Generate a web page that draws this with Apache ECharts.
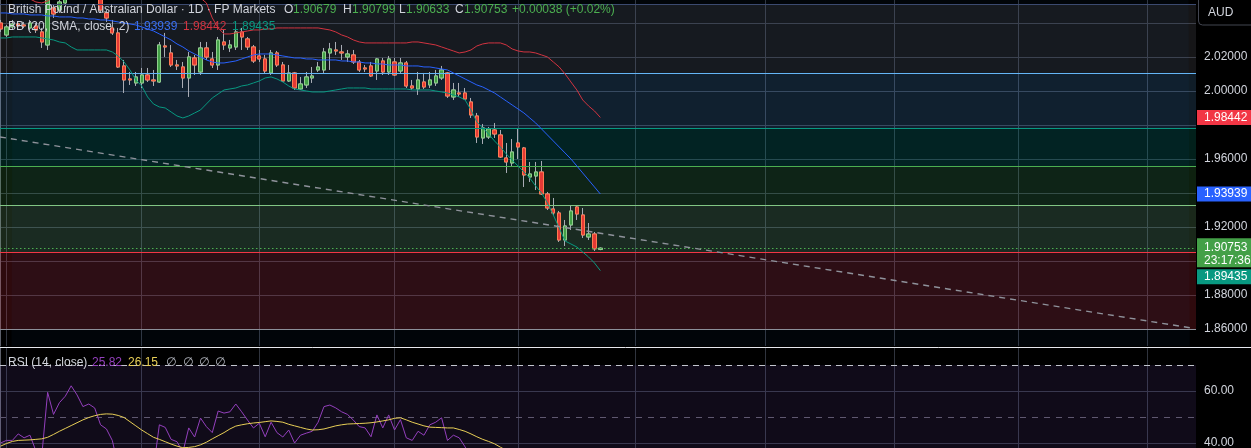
<!DOCTYPE html>
<html>
<head>
<meta charset="utf-8">
<title>GBPAUD 1D</title>
<script src="https://cdn.jsdelivr.net/npm/echarts@6.0.0/dist/echarts.min.js"></script>
<style>
html,body{margin:0;padding:0;background:#000;overflow:hidden;}
#chart{width:1251px;height:448px;}
</style>
</head>
<body>
<div id="chart"></div>
<script>
// ---------------- DATA ----------------
const opens = [
2.04000, 2.03294, 2.03765, 2.03941, 2.03882, 2.03706, 2.03824, 2.03471, 2.02706, 2.04882,
2.04765, 2.05176, 2.05706, 2.06235, 2.05941, 2.06412, 2.06059, 2.05588, 2.04588, 2.03706,
2.03412, 2.01471, 2.00706, 2.00471, 2.00471, 2.00941, 2.00647, 2.00529, 2.02647, 2.02235,
2.01529, 2.01412, 2.00765, 2.01941, 2.01118, 2.02529, 2.01882, 2.01529, 2.02882, 2.02529,
2.02588, 2.03471, 2.03059, 2.02588, 2.02059, 2.01882, 2.01059, 2.02235, 2.01529, 2.00588,
2.01059, 2.00118, 2.00353, 2.00765, 2.01235, 2.01235, 2.02235, 2.02412, 2.02294, 2.02000,
2.02118, 2.01706, 2.01353, 2.01471, 2.01176, 2.01765, 2.01118, 2.01706, 2.01176, 2.01647,
2.00294, 2.00118, 2.00529, 2.00353, 2.00471, 2.00765, 2.01059, 1.99647, 1.99882, 1.99882,
1.99353, 1.98529, 1.97235, 1.97294, 1.97706, 1.97412, 1.96059, 1.95765, 1.96941, 1.96647,
1.94941, 1.95000, 1.95235, 1.93941, 1.93059, 1.92824, 1.91235, 1.92118, 1.93176, 1.92706,
1.91412, 1.91588, 1.90679];
const highs = [
2.04176, 2.03882, 2.04176, 2.04059, 2.04059, 2.04176, 2.04000, 2.03706, 2.05706, 2.05118,
2.05471, 2.05941, 2.06412, 2.06529, 2.06588, 2.06529, 2.06235, 2.05824, 2.04765, 2.04176,
2.03706, 2.01824, 2.01118, 2.01118, 2.01353, 2.01353, 2.01235, 2.02882, 2.03412, 2.02706,
2.01824, 2.01706, 2.02294, 2.02118, 2.02882, 2.02882, 2.02294, 2.03176, 2.03588, 2.03000,
2.04059, 2.03706, 2.03176, 2.02706, 2.02412, 2.02118, 2.02412, 2.02353, 2.01706, 2.01529,
2.01118, 2.00824, 2.01118, 2.01412, 2.01706, 2.02529, 2.02824, 2.02882, 2.02706, 2.02412,
2.02412, 2.01824, 2.01529, 2.01706, 2.01941, 2.01941, 2.02059, 2.01941, 2.01941, 2.01765,
2.00647, 2.01118, 2.01059, 2.01118, 2.01235, 2.01471, 2.01118, 2.00471, 2.00471, 2.00176,
1.99588, 1.98706, 1.98059, 1.97882, 1.98118, 1.97706, 1.96941, 1.97176, 1.97765, 1.96706,
1.95824, 1.95824, 1.95882, 1.94059, 1.93706, 1.92941, 1.92412, 1.93235, 1.93235, 1.93118,
1.92235, 1.91706, 1.90799];
const lows = [
2.03471, 2.03176, 2.03588, 2.03706, 2.03706, 2.03588, 2.03412, 2.02529, 2.02412, 2.04294,
2.04588, 2.04941, 2.05529, 2.05824, 2.05824, 2.05882, 2.05588, 2.04588, 2.04059, 2.03294,
2.01353, 1.99882, 2.00353, 2.00294, 2.00176, 2.00529, 2.00294, 2.00471, 2.02000, 2.01412,
2.01235, 2.00176, 1.99647, 2.00941, 2.00941, 2.01824, 2.01353, 2.01235, 2.02412, 2.02294,
2.02412, 2.02412, 2.02412, 2.01647, 2.01706, 2.01000, 2.00941, 2.01412, 2.00529, 2.00529,
2.00059, 2.00059, 2.00176, 2.00471, 2.01118, 2.01059, 2.01235, 2.02118, 2.01824, 2.01706,
2.01588, 2.01118, 2.01118, 2.00824, 2.00647, 2.00941, 2.00941, 2.00882, 2.01059, 2.00176,
2.00059, 1.99765, 2.00118, 2.00176, 2.00294, 2.00647, 1.99588, 1.99471, 1.99647, 1.99471,
1.98412, 1.96941, 1.96882, 1.97176, 1.97235, 1.96059, 1.95176, 1.95529, 1.96000, 1.94353,
1.94647, 1.94176, 1.93882, 1.93000, 1.92706, 1.91118, 1.90882, 1.91824, 1.92412, 1.91353,
1.91235, 1.90588, 1.90633];
const closes = [
2.03647, 2.03765, 2.03941, 2.03824, 2.03824, 2.04000, 2.03588, 2.02882, 2.05529, 2.04529,
2.05235, 2.05706, 2.06235, 2.05941, 2.06412, 2.06059, 2.05706, 2.04765, 2.04294, 2.03412,
2.01412, 2.00647, 2.00647, 2.00824, 2.00941, 2.00647, 2.00588, 2.02706, 2.02588, 2.01529,
2.01471, 2.00765, 2.02000, 2.01529, 2.02529, 2.02000, 2.01529, 2.03000, 2.02706, 2.02706,
2.03471, 2.03176, 2.02588, 2.01765, 2.01882, 2.01176, 2.02235, 2.01529, 2.00588, 2.01059,
2.00176, 2.00412, 2.00824, 2.00882, 2.01412, 2.02294, 2.02471, 2.02353, 2.02235, 2.02176,
2.01706, 2.01235, 2.01294, 2.00882, 2.01882, 2.01118, 2.01882, 2.00941, 2.01647, 2.00294,
2.00176, 2.00647, 2.00235, 2.00647, 2.00882, 2.01235, 1.99706, 2.00059, 1.99824, 1.99529,
1.98588, 1.97294, 1.97824, 1.97765, 1.97471, 1.96118, 1.95824, 1.96412, 1.96706, 1.95059,
1.95118, 1.95235, 1.93941, 1.93118, 1.92824, 1.91235, 1.92059, 1.92941, 1.92765, 1.91529,
1.91588, 1.90715, 1.90753];

// Bollinger Bands (20, SMA, close, 2)
const bbUpper = [
2.06058, 2.05941, 2.05824, 2.05706, 2.05588, 2.05412, 2.05235, 2.05176, 2.05294, 2.05529,
2.05824, 2.05882, 2.06118, 2.06176, 2.06176, 2.06058, 2.06058, 2.05940, 2.05940, 2.05942,
2.06059, 2.06294, 2.06647, 2.07117, 2.07236, 2.07647, 2.07823, 2.07647, 2.07352, 2.07235,
2.07001, 2.06764, 2.06177, 2.05646, 2.05471, 2.05176, 2.04294, 2.03706, 2.03353, 2.03353,
2.03412, 2.03471, 2.03529, 2.03588, 2.03588, 2.03647, 2.03647, 2.03706, 2.03706, 2.03706,
2.03706, 2.03706, 2.03706, 2.03706, 2.03706, 2.03647, 2.03588, 2.03471, 2.03294, 2.03176,
2.03000, 2.02882, 2.02824, 2.02824, 2.02824, 2.02824, 2.02824, 2.02824, 2.02824, 2.02824,
2.02882, 2.02882, 2.02824, 2.02765, 2.02706, 2.02588, 2.02471, 2.02353, 2.02235, 2.02294,
2.02412, 2.02647, 2.02765, 2.02824, 2.02824, 2.02824, 2.02706, 2.02471, 2.02353, 2.02294,
2.02294, 2.02235, 2.02118, 2.02000, 2.01706, 2.01412, 2.01000, 2.00529, 2.00059, 1.99471,
1.99118, 1.98824, 1.98442];
const bbBasis = [
2.04588, 2.04588, 2.04529, 2.04529, 2.04529, 2.04471, 2.04471, 2.04471, 2.04412, 2.04412,
2.04353, 2.04353, 2.04353, 2.04294, 2.04294, 2.04235, 2.04235, 2.04176, 2.04176, 2.04118,
2.04059, 2.04000, 2.03941, 2.03882, 2.03765, 2.03647, 2.03529, 2.03353, 2.03176, 2.03000,
2.02765, 2.02588, 2.02353, 2.02176, 2.02000, 2.01824, 2.01706, 2.01647, 2.01647, 2.01706,
2.01765, 2.01882, 2.02000, 2.02118, 2.02176, 2.02176, 2.02176, 2.02118, 2.02059, 2.02000,
2.01941, 2.01941, 2.01882, 2.01882, 2.01824, 2.01824, 2.01824, 2.01824, 2.01765, 2.01765,
2.01706, 2.01706, 2.01647, 2.01647, 2.01588, 2.01588, 2.01529, 2.01529, 2.01529, 2.01471,
2.01471, 2.01471, 2.01412, 2.01412, 2.01353, 2.01294, 2.01235, 2.01059, 2.00882, 2.00706,
2.00529, 2.00353, 2.00235, 2.00059, 1.99882, 1.99647, 1.99412, 1.99176, 1.98941, 1.98706,
1.98412, 1.98118, 1.97765, 1.97412, 1.97059, 1.96706, 1.96353, 1.96000, 1.95588, 1.95176,
1.94765, 1.94353, 1.93939];
const bbLower = [
2.03118, 2.03118, 2.03176, 2.03176, 2.03176, 2.03176, 2.03176, 2.03118, 2.03059, 2.03000,
2.02882, 2.02824, 2.02588, 2.02412, 2.02412, 2.02412, 2.02412, 2.02412, 2.02412, 2.02294,
2.02059, 2.01706, 2.01235, 2.00647, 2.00294, 1.99647, 1.99235, 1.99059, 1.99000, 1.98765,
1.98529, 1.98412, 1.98529, 1.98706, 1.98882, 1.99235, 1.99588, 1.99824, 2.00059, 2.00118,
2.00176, 2.00294, 2.00353, 2.00471, 2.00588, 2.00765, 2.00824, 2.00706, 2.00529, 2.00294,
2.00118, 2.00059, 2.00000, 1.99941, 1.99941, 1.99941, 2.00000, 2.00059, 2.00118, 2.00176,
2.00176, 2.00176, 2.00176, 2.00118, 2.00118, 2.00118, 2.00118, 2.00118, 2.00118, 2.00118,
2.00059, 2.00059, 2.00059, 2.00059, 2.00000, 1.99941, 1.99882, 1.99765, 1.99647, 1.99471,
1.98882, 1.98176, 1.97824, 1.97471, 1.97059, 1.96706, 1.96294, 1.95941, 1.95588, 1.95235,
1.94882, 1.94412, 1.94000, 1.93412, 1.92706, 1.91941, 1.91176, 1.91000, 1.90824, 1.90529,
1.90235, 1.89882, 1.89435];

// RSI (14, close) and its SMA
const rsi = [
40, 41, 41, 43.5, 42, 43, 37, 35, 59.5, 51, 55.5, 58, 62, 58.5, 54, 55, 53.5, 47, 45.4, 41,
31, 27.5, 28, 30, 31, 29.5, 30, 47, 46, 41.4, 40.5, 36.5, 45.8, 42.3, 49.6, 46.3, 44, 52.3, 51.5, 52,
55, 52, 48.8, 45.8, 47.6, 42.4, 48, 44, 42.3, 45, 40, 43, 43.8, 44.5, 48, 54, 54.6, 53.5, 52, 51,
48.8, 46.3, 45.8, 42.4, 50.8, 45.8, 50.8, 45, 49, 42, 41, 44.5, 43, 47, 48, 49.7, 41, 43, 42, 38.5,
34, 28, 31, 32, 31, 26, 25.5, 29, 28, 22.5, 23.5, 24, 20.5, 18.5, 18, 15.5, 21, 27, 25.5, 22,
23.5, 25, 25.82];
const rsiMA = [
38.8, 39.8, 40.6, 41, 41.1, 41.2, 41.4, 41.6, 42.2, 43.3, 44.5, 45.6, 46.7, 47.8, 48.9, 49.8, 50.5, 51, 51.2, 51.1,
50.6, 49.8, 48.2, 46.6, 45, 43.6, 42.2, 41.4, 40.5, 39.6, 38.8, 38.2, 38.3, 38.6, 39.3, 40.3, 41.6, 42.8, 44, 45.4,
46.5, 47, 47.4, 47.7, 47.9, 48.2, 48.5, 48.3, 48, 47.2, 46.6, 46, 45.4, 45, 45.1, 45.4, 46, 46.6, 47, 47.3,
47.4, 47.5, 47.6, 47.8, 48.1, 48.5, 48.9, 49.5, 49.7, 48.9, 48, 47.3, 46.6, 46.1, 46, 45.9, 45.8, 45.8, 45.2, 44.5,
43.5, 42.4, 41.4, 40.6, 39.7, 38.4, 37.2, 36, 35, 33.6, 32.4, 31.4, 30.2, 29.1, 28.2, 27.3, 26.7, 26.4, 26.3, 26.1,
26, 26, 26.15];

// Fibonacci retracement levels (0, 0.236, 0.382, 0.5, 0.618, 0.786, 1)
const fibLevels = [1.86000, 1.90512, 1.93303, 1.95559, 1.97815, 2.01027, 2.05118];
// Dashed trend line: [bar index, price]
const trendLine = [[-0.1, 1.97294], [202.5, 1.86059]];
// Month-start bar indices (vertical grid)
const monthTicks = [1, 24, 44, 67, 88, 108, 130, 152, 173, 195];
// Price scale
const priceGridTicks = [2.04, 2.02, 2.00, 1.98, 1.96, 1.94, 1.92, 1.90, 1.88, 1.86];
const priceLabelTicks = [2.02, 2.00, 1.96, 1.92, 1.88, 1.86];
const rsiTicks = [60, 40];
const rsiBands = [70, 50, 30];
const countdown = '23:17:36';
const legendOHLC = {o: '1.90679', h: '1.90799', l: '1.90633', c: '1.90753', chg: '+0.00038 (+0.02%)'};

// ---------------- STYLE ----------------
const FONT = '"Liberation Sans", Arial, "DejaVu Sans", sans-serif';
const GRID = '#30343e';
const TXT = '#d1d4dc';
const UP = '#4caf50', DOWN = '#f23645', BLUE = '#2962ff', TEAL = '#089981';
const fibColors = ['#8c8f99', '#f23645', '#81c784', '#4caf50', '#089981', '#64b5f6', '#3b4a70'];
const fibFills = ['rgba(242,54,69,0.19)', 'rgba(129,199,132,0.20)', 'rgba(76,175,80,0.19)',
                  'rgba(8,153,129,0.21)', 'rgba(100,181,246,0.16)', 'rgba(120,123,134,0.18)'];

const N = closes.length;
const idx = closes.map((_, i) => i);
const pair = arr => idx.map(i => [i, arr[i]]);
const ohlc = idx.map(i => [i, opens[i], closes[i], lows[i], highs[i]]);
const bodies = idx.map(i => [i, opens[i], closes[i], Math.min(opens[i], closes[i]), Math.max(opens[i], closes[i])]);
const bbWidth = idx.map(i => [i, bbUpper[i] - bbLower[i]]);

const chart = echarts.init(document.getElementById('chart'));

const xAx = g => ({
  type: 'value', gridIndex: g, min: -0.1, max: 203.3,
  axisLine: {show: false}, axisLabel: {show: false},
  axisTick: {show: false, customValues: monthTicks},
  splitLine: {show: true, lineStyle: {color: GRID, width: 1}}
});

const option = {
  backgroundColor: '#000',
  animation: false,
  grid: [
    {left: 0, top: 0, width: 1196, height: 346, outerBoundsMode: 'none', containLabel: false},
    {left: 0, top: 348, width: 1196, height: 100, outerBoundsMode: 'none', containLabel: false}
  ],
  xAxis: [xAx(0), xAx(1)],
  yAxis: [
    {
      type: 'value', gridIndex: 0, position: 'right', min: 1.85, max: 2.0535, scale: true,
      axisLine: {show: true, lineStyle: {color: '#5d606b'}},
      axisTick: {show: false, customValues: priceGridTicks},
      axisLabel: {customValues: priceLabelTicks, formatter: v => v.toFixed(5), color: TXT,
                  fontSize: 12, fontFamily: FONT, margin: 8},
      splitLine: {show: true, lineStyle: {color: GRID, width: 1}}
    },
    {
      type: 'value', gridIndex: 1, position: 'right', min: 38.08, max: 76.54, scale: true,
      axisLine: {show: true, lineStyle: {color: '#5d606b'}},
      axisTick: {show: false, customValues: rsiTicks},
      axisLabel: {customValues: rsiTicks, formatter: v => v.toFixed(2), color: TXT,
                  fontSize: 12, fontFamily: FONT, margin: 8},
      splitLine: {show: true, lineStyle: {color: GRID, width: 1}}
    }
  ],
  series: [
    // Bollinger background fill (lower + width stacked)
    {type: 'line', xAxisIndex: 0, yAxisIndex: 0, data: pair(bbLower), stack: 'bb', symbol: 'none',
     lineStyle: {width: 0, color: 'rgba(0,0,0,0)'}, silent: true, z: 1},
    {type: 'line', xAxisIndex: 0, yAxisIndex: 0, data: bbWidth, stack: 'bb', symbol: 'none',
     lineStyle: {width: 0, color: 'rgba(0,0,0,0)'}, areaStyle: {color: 'rgba(33,150,243,0.05)'}, silent: true, z: 1},
    // Trend line + Fibonacci retracement
    {type: 'line', xAxisIndex: 0, yAxisIndex: 0, data: trendLine, symbol: 'none', silent: true, z: 6,
     lineStyle: {color: '#8f929b', width: 1.4, type: [6, 5]},
     markArea: {silent: true, z: 1,
       data: fibFills.map((c, i) => [{yAxis: fibLevels[i], itemStyle: {color: c}}, {yAxis: fibLevels[i + 1]}])},
     markLine: {silent: true, precision: 6, symbol: ['none', 'none'], label: {show: false}, z: 5,
       data: fibLevels.map((v, i) => ({yAxis: v, lineStyle: {color: fibColors[i], width: 1, type: 'solid'}}))}
    },
    // Wicks
    {type: 'candlestick', xAxisIndex: 0, yAxisIndex: 0, data: ohlc, barWidth: 3.8, silent: true, z: 3,
     itemStyle: {color: 'rgba(0,0,0,0)', color0: 'rgba(0,0,0,0)', borderColor: '#a9acb5', borderColor0: '#a9acb5', borderWidth: 1}},
    // Bodies
    {type: 'candlestick', xAxisIndex: 0, yAxisIndex: 0, data: bodies, barWidth: 3.8, silent: true, z: 4,
     itemStyle: {color: '#43a047', color0: '#e53935', borderColor: '#8fce8c', borderColor0: '#ff7a52', borderWidth: 1},
     markLine: {silent: true, precision: 6, symbol: ['none', 'none'], label: {show: false}, z: 5,
       data: [{yAxis: closes[N - 1], lineStyle: {color: UP, width: 1, type: [1.5, 2.5]}}]}
    },
    // BB lines
    {type: 'line', xAxisIndex: 0, yAxisIndex: 0, data: pair(bbUpper), symbol: 'none', silent: true, z: 5,
     lineStyle: {color: '#d23440', width: 1}},
    {type: 'line', xAxisIndex: 0, yAxisIndex: 0, data: pair(bbBasis), symbol: 'none', silent: true, z: 5,
     lineStyle: {color: BLUE, width: 1}},
    {type: 'line', xAxisIndex: 0, yAxisIndex: 0, data: pair(bbLower), symbol: 'none', silent: true, z: 5,
     lineStyle: {color: TEAL, width: 1}},
    // RSI
    {type: 'line', xAxisIndex: 1, yAxisIndex: 1, data: pair(rsi), symbol: 'none', silent: true, z: 4,
     lineStyle: {color: '#9440bd', width: 1},
     markArea: {silent: true, z: 1, data: [[{yAxis: rsiBands[2], itemStyle: {color: 'rgba(126,87,194,0.13)'}}, {yAxis: rsiBands[0]}]]},
     markLine: {silent: true, precision: 4, symbol: ['none', 'none'], label: {show: false}, z: 3,
       data: [
         {yAxis: rsiBands[0], lineStyle: {color: '#c3c6ce', width: 1, type: [6, 5]}},
         {yAxis: rsiBands[1], lineStyle: {color: '#5f5870', width: 1, type: [6, 6]}},
         {yAxis: rsiBands[2], lineStyle: {color: '#c3c6ce', width: 1, type: [6, 5]}}
       ]}
    },
    {type: 'line', xAxisIndex: 1, yAxisIndex: 1, data: pair(rsiMA), symbol: 'none', silent: true, z: 4,
     lineStyle: {color: '#e8cf57', width: 1}}
  ]
};
chart.setOption(option);

// ---------------- LEGENDS & PRICE TAGS ----------------
const g = [];
const txt = (x, y, text, fill, extra) => g.push(Object.assign({
  type: 'text', x: x, y: y, z: 100, silent: true,
  style: {text: text, fill: fill, font: '12px ' + FONT, verticalAlign: 'middle', align: 'left'}
}, extra || {}));

// Header line 1
txt(8, 10, 'British Pound / Australian Dollar · 1D · FP Markets', TXT);
txt(284, 10, 'O', TXT); txt(293, 10, legendOHLC.o, UP);
txt(343, 10, 'H', TXT); txt(352, 10, legendOHLC.h, UP);
txt(399, 10, 'L', TXT); txt(406, 10, legendOHLC.l, UP);
txt(455, 10, 'C', TXT); txt(464, 10, legendOHLC.c, UP);
txt(512, 10, legendOHLC.chg, UP);
// Header line 2
txt(8, 27, 'BB (20, SMA, close, 2)', TXT);
txt(134, 27, bbBasis[N - 1].toFixed(5), '#3a6ff0');
txt(183, 27, bbUpper[N - 1].toFixed(5), '#d23440');
txt(232, 27, bbLower[N - 1].toFixed(5), TEAL);
// RSI legend
txt(8, 363, 'RSI (14, close)', TXT);
txt(92, 363, rsi[N - 1].toFixed(2), '#9440bd');
txt(128, 363, rsiMA[N - 1].toFixed(2), '#e8cf57');
[166, 183, 199, 215].forEach(x => txt(x, 363, '∅', '#b2b5be'));

// Currency box
g.push({type: 'rect', z: 90, silent: true, shape: {x: 1198.5, y: -6, width: 60, height: 31, r: 4},
        style: {fill: '#000', stroke: '#434651', lineWidth: 1}});
txt(1208, 13, 'AUD', TXT);

// Price tags on the axis
const tags = [
  {v: bbUpper[N - 1], color: DOWN},
  {v: bbBasis[N - 1], color: BLUE},
  {v: closes[N - 1], color: '#43a047', sub: countdown},
  {v: bbLower[N - 1], color: TEAL}
].map(t => Object.assign(t, {y: chart.convertToPixel({yAxisIndex: 0}, t.v)}))
 .sort((a, b) => a.y - b.y);
let prevBottom = -Infinity;
tags.forEach(t => {
  const h = t.sub ? 29 : 15;
  let top = t.sub ? t.y - 10 : t.y - 7.5;
  if (top < prevBottom + 2) top = prevBottom + 2;
  prevBottom = top + h;
  g.push({type: 'rect', z: 95, silent: true, shape: {x: 1197, y: top, width: 56, height: h, r: 0},
          style: {fill: t.color}});
  if (t.sub) {
    txt(1204, top + 9.5, t.v.toFixed(5), '#ffffff', {z: 96});
    txt(1204, top + 22.5, t.sub, '#ffffff', {z: 96});
  } else {
    txt(1204, top + h / 2, t.v.toFixed(5), '#ffffff', {z: 96});
  }
});

// Pane separator
g.push({type: 'line', z: 99, silent: true, shape: {x1: 0, y1: 347.5, x2: 1251, y2: 347.5},
        style: {stroke: '#e6e8ee', lineWidth: 1}});

chart.setOption({graphic: g});
</script>
</body>
</html>
